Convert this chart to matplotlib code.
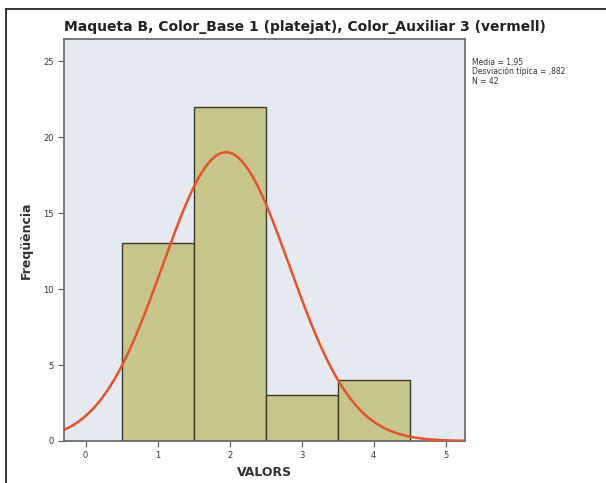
import numpy as np
import matplotlib.pyplot as plt
from matplotlib.lines import Line2D

# --- data ---
bin_left = [0.5, 1.5, 2.5, 3.5]
counts = [13, 22, 3, 4]
mean_val = 1.95
sd_val = 0.882
n_val = 42
xticks = [0, 1, 2, 3, 4, 5]
yticks = [0, 5, 10, 15, 20, 25]

W, H = 606, 483
fig = plt.figure(figsize=(W / 100, H / 100), dpi=100)

# page frame: only top and left edges are visible
fig.lines.append(Line2D([6 / W, 1], [1 - 9 / H, 1 - 9 / H], transform=fig.transFigure,
                        color='#333333', linewidth=1.4))
fig.lines.append(Line2D([6 / W, 6 / W], [0, 1 - 9 / H], transform=fig.transFigure,
                        color='#333333', linewidth=1.4))

ax = fig.add_axes([64 / W, 42 / H, 401 / W, 402 / H])
ax.set_facecolor('#e6e9ef')

ax.bar(bin_left, counts, width=1.0, align='edge', color='#c7c58c',
       edgecolor='#3a3a2a', linewidth=1.0, zorder=2)

# normal curve from the stated mean / sd / N
xs = np.linspace(-0.3, 5.27, 400)
ys = n_val * 1.0 / (sd_val * np.sqrt(2 * np.pi)) * np.exp(-0.5 * ((xs - mean_val) / sd_val) ** 2)
ax.plot(xs, ys, color='#e2532e', linewidth=1.8, zorder=3)

ax.set_xlim(-0.3, 5.27)
ax.set_ylim(0, 26.45)
ax.set_xticks(xticks)
ax.set_yticks(yticks)
ax.tick_params(labelsize=6, length=4, width=0.8, colors='#555555', labelcolor='#333333')
for s in ax.spines.values():
    s.set_color('#6a6060')
    s.set_linewidth(1.2)

fig.text(305 / W, 1 - 27 / H,
         'Maqueta B, Color_Base 1 (platejat), Color_Auxiliar 3 (vermell)',
         fontsize=10, fontweight='bold', color='#222222', ha='center', va='center')
ax.set_ylabel('Freqüència', fontsize=9, fontweight='bold', color='#333333')
ax.yaxis.set_label_coords(-0.078, 0.5)
ax.set_xlabel('VALORS', fontsize=9, fontweight='bold', color='#333333', labelpad=4)

fig.text(472 / W, 1 - 58 / H,
         'Media = 1,95\nDesviación típica = ,882\nN = 42',
         fontsize=5.5, color='#333333', va='top', ha='left', linespacing=1.0)

fig.savefig('out.png', dpi=100)
